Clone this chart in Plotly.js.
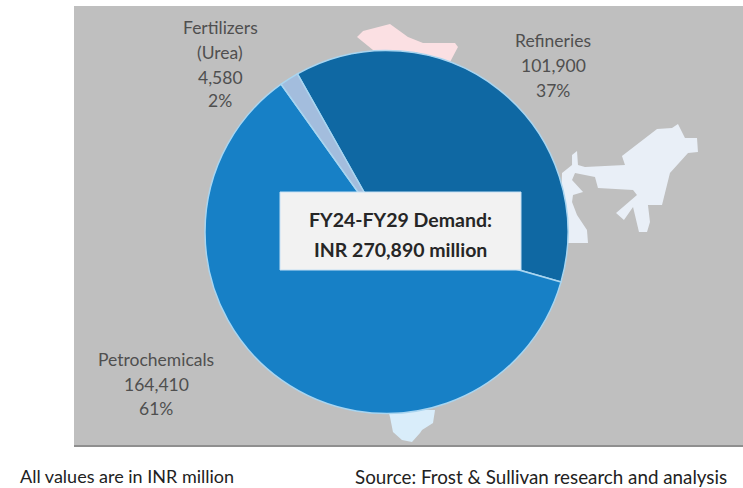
<!DOCTYPE html>
<html><head><meta charset="utf-8">
<script src="https://cdn.plot.ly/plotly-3.0.1.min.js"></script>
<style>html,body{margin:0;padding:0;background:#fff;overflow:hidden}#c{width:743px;height:488px}</style></head>
<body><div id="c"></div>
<script>
const categories = ["Refineries", "Petrochemicals", "Fertilizers (Urea)"];
const demand = [101900, 164410, 4580];
const shares = ["37%", "61%", "2%"];
const sliceColors = ["#0f68a3", "#1780c6", "#a3bddd"];
const centerLines = ["FY24-FY29 Demand:", "INR 270,890 million"];
const W = 743, H = 488;
const px = (x, y) => [(x / W).toFixed(4), (1 - y / H).toFixed(4)].join(",");
const path = pts => "M" + pts.map(p => px(p[0], p[1])).join("L") + "Z";
const mapTop = [[357,37],[363,31],[390,24],[408,37],[423,43],[455,43],[458,47],[450,62],[373,62],[373,50]];
const mapEast = [[562,173],[572,165],[572,155],[577,151],[578,165],[585,167],[625,165],[622,156],[657,129],[672,128],[678,124],[685,138],[697,138],[698,152],[688,153],[670,173],[662,205],[648,205],[650,222],[647,232],[639,232],[633,207],[624,220],[616,213],[637,195],[633,190],[598,188],[595,177],[575,173],[572,180],[583,192],[573,195],[572,202],[577,215],[587,230],[588,243],[560,243]];
const mapSouth = [[388,410],[390,417],[393,432],[402,440],[412,442],[420,433],[422,430],[433,423],[435,410]];
const rect = (x0, y0, x1, y1, fill, layer, line) => ({type:"rect", xref:"paper", yref:"paper", x0:x0/W, x1:x1/W, y0:1-y1/H, y1:1-y0/H, fillcolor:fill, line:line||{width:0}, layer});
const poly = (pts, fill) => ({type:"path", xref:"paper", yref:"paper", path:path(pts), fillcolor:fill, line:{width:0}, layer:"below"});
const FAM = "Lato, sans-serif";
const note = (x, y, text, size, color, anchor, weight) => ({xref:"paper", yref:"paper", x:x/W, y:1-y/H, text, showarrow:false, xanchor:anchor||"center", yanchor:"middle", align:"center", font:{family:FAM, size:size||17.5, color:color||"#4f4f4f", weight:weight||400}});
const num = i => demand[i].toLocaleString("en-US");
Plotly.newPlot("c", [{
  type:"pie", labels:categories, values:demand, sort:false, direction:"clockwise", rotation:-29.4,
  marker:{colors:sliceColors, line:{color:"#a9d5f0", width:1.5}},
  textinfo:"none", hoverinfo:"label+value+percent", showlegend:false,
  domain:{x:[205/W,568/W], y:[1-414/H,1-50/H]}
}], {
  width:W, height:H, margin:{l:0,r:0,t:0,b:0}, paper_bgcolor:"#fff", showlegend:false,
  shapes:[
    rect(74,6,743,445,"#bfbfbf","below"),
    rect(74,445,743,447,"#8f8f8f","below"),
    poly(mapTop,"#fbe0e3"), poly(mapEast,"#e9eff7"), poly(mapSouth,"#d9edfa"),
    rect(280,192,521,270,"#f2f2f2","above",{color:"#c5e0f5", width:1})
  ],
  annotations:[
    note(553,41,categories[0]), note(553,65,num(0)), note(553,90,shares[0]),
    note(156,359,categories[1]), note(156,384,num(1)), note(156,408,shares[1]),
    note(220,28,"Fertilizers"), note(220,53,"(Urea)"), note(220,77,num(2)), note(220,101,shares[2]),
    note(400,220,centerLines[0],19.5,"#262626","center",700),
    note(400,250,centerLines[1],19.5,"#262626","center",700),
    note(18,476,"All values are in INR million",18,"#222","left"),
    note(353,476,"Source: Frost & Sullivan research and analysis",18.8,"#222","left")
  ]
}, {displayModeBar:false, staticPlot:true});
</script></body></html>
